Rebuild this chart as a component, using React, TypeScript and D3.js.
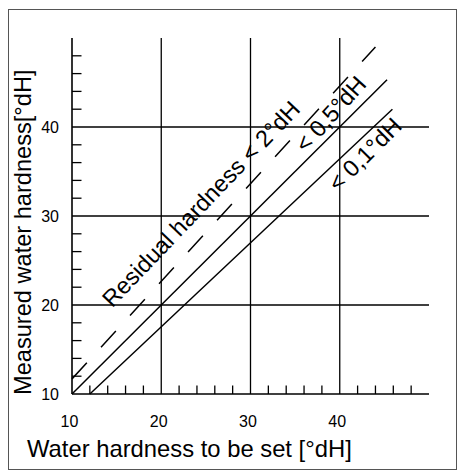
import * as d3 from "d3";

// axis ticks
const majorTicks = [10, 20, 30, 40];
const gridValues = [20, 30, 40];
const minorTicks = [12, 14, 16, 18, 22, 24, 26, 28, 32, 34, 36, 38, 42, 44, 46, 48];

// curves: [set hardness, measured hardness]
const lowerLine: [number, number][] = [[12, 10], [45.9, 42]];
const middleLine: [number, number][] = [[10, 10], [45.3, 45.3]];
const dashedLine: [number, number][] = [[10, 11.7], [44, 49]];

// annotations
const labels = [
  { text: "Residual hardness < 2°dH", x: 14.5, y: 19.6, angle: -46.3 },
  { text: "< 0,5°dH", x: 36.2, y: 37.0, angle: -48 },
  { text: "< 0,1°dH", x: 39.8, y: 32.6, angle: -45 },
];

const W = 459;
const H = 471;
const font = "'Liberation Sans', Arial, sans-serif";

export default function App() {
  const x = d3.scaleLinear().domain([10, 50]).range([72, 429]);
  const y = d3.scaleLinear().domain([10, 50]).range([394, 38]);
  const line = d3
    .line<[number, number]>()
    .x((d) => x(d[0]))
    .y((d) => y(d[1]));

  return (
    <svg
      width={W}
      height={H}
      style={{ position: "absolute", left: 0, top: 0, background: "#fff" }}
      fontFamily={font}
    >
      <rect x={8.5} y={9.5} width={448} height={460} fill="none" stroke="#555" strokeWidth={1} />

      {/* grid */}
      {gridValues.map((v) => (
        <g key={"g" + v} stroke="#000" strokeWidth={1.3}>
          <line x1={x(v)} x2={x(v)} y1={y(10)} y2={y(50)} />
          <line x1={x(10)} x2={x(50)} y1={y(v)} y2={y(v)} />
        </g>
      ))}

      {/* axes */}
      <line x1={x(10)} x2={x(10)} y1={y(10)} y2={y(50)} stroke="#000" strokeWidth={1.6} />
      <line x1={x(10)} x2={x(50)} y1={y(10)} y2={y(10)} stroke="#000" strokeWidth={1.6} />

      {/* minor ticks, pointing inward */}
      {minorTicks.map((v) => (
        <g key={"t" + v} stroke="#000" strokeWidth={1.3}>
          <line x1={x(10)} x2={x(10) + 9.5} y1={y(v)} y2={y(v)} />
          <line x1={x(v)} x2={x(v)} y1={y(10)} y2={y(10) - 8.5} />
        </g>
      ))}

      {/* tick labels */}
      {majorTicks.map((v) => (
        <text key={"xl" + v} x={x(v) - 2.5} y={427} textAnchor="middle" fontSize={16}>
          {v}
        </text>
      ))}
      {majorTicks.map((v) => (
        <text key={"yl" + v} x={59} y={y(v)} dy="0.36em" textAnchor="end" fontSize={16}>
          {v}
        </text>
      ))}

      {/* curves */}
      <path d={line(lowerLine) ?? ""} fill="none" stroke="#000" strokeWidth={1.5} />
      <path d={line(middleLine) ?? ""} fill="none" stroke="#000" strokeWidth={1.5} />
      <path
        d={line(dashedLine) ?? ""}
        fill="none"
        stroke="#000"
        strokeWidth={1.5}
        strokeDasharray="22,21"
      />

      {labels.map((l) => (
        <text
          key={l.text}
          transform={`translate(${x(l.x)},${y(l.y)}) rotate(${l.angle})`}
          fontSize={23.5}
        >
          {l.text}
        </text>
      ))}

      {/* axis titles */}
      <text x={27} y={457} fontSize={23.8}>
        Water hardness to be set [°dH]
      </text>
      <text transform="translate(31,395) rotate(-90)" fontSize={23.6}>
        Measured water hardness[°dH]
      </text>
    </svg>
  );
}
